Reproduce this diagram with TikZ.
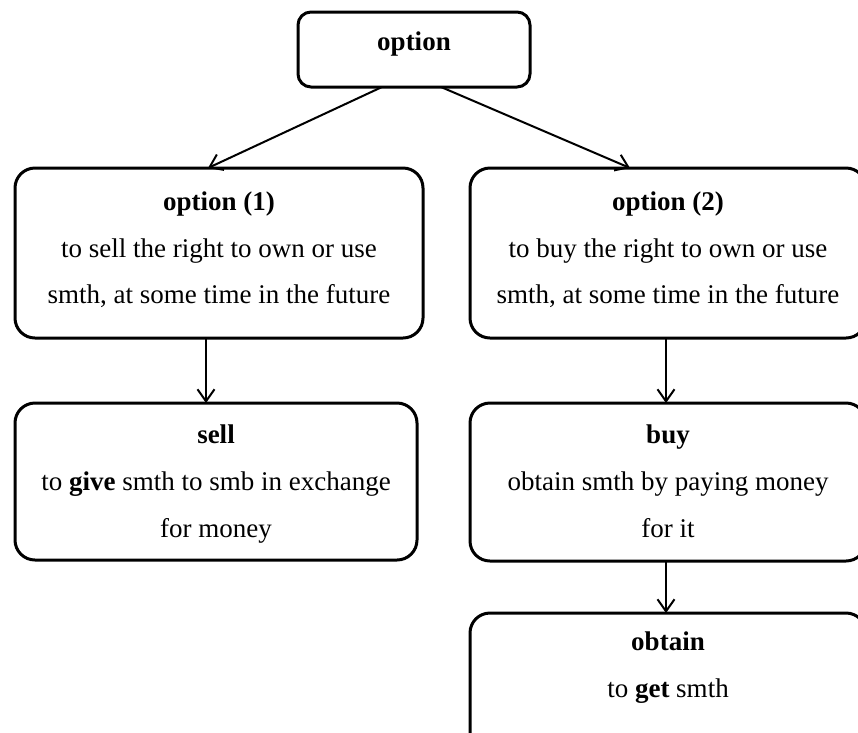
\documentclass[tikz,border=0pt]{standalone}
\usepackage{fontspec}
\setmainfont{Liberation Serif}
\usetikzlibrary{arrows.meta}
\tikzset{
  box/.style={draw=black, line width=3pt, rounded corners=20pt, inner sep=0pt, outer sep=0pt},
  smallbox/.style={box, rounded corners=13pt},
  txt/.style={anchor=base, inner sep=0pt, outer sep=0pt, font=\fontsize{27pt}{46pt}\selectfont},
  arr/.style={line width=2pt, -{Straight Barb[length=12pt,width=17pt,line width=2pt]}}
}
\begin{document}
\begin{tikzpicture}[x=1pt,y=-1pt]
\useasboundingbox (0,0) rectangle (858,732);
\clip (0,0) rectangle (858,732);
% boxes
\node[smallbox, minimum width=232pt, minimum height=75pt] (top) at (414,49.5) {};
\node[box, minimum width=408pt, minimum height=170pt] (l1) at (219,253) {};
\node[box, minimum width=396pt, minimum height=170pt] (r1) at (668,253) {};
\node[box, minimum width=402pt, minimum height=157pt] (sell) at (216,481.5) {};
\node[box, minimum width=396pt, minimum height=158pt] (buy) at (668,482) {};
\node[box, minimum width=396pt, minimum height=140pt] (obtain) at (668,683) {};
% texts
\node[txt] (ttop) at (414,50) {\textbf{option}};
\node[txt] (tl1a) at (219,210) {\textbf{option (1)}};
\node[txt] (tl1b) at (219,257) {to sell the right to own or use};
\node[txt] (tl1c) at (219,303) {smth, at some time in the future};
\node[txt] (tr1a) at (668,210) {\textbf{option (2)}};
\node[txt] (tr1b) at (668,257) {to buy the right to own or use};
\node[txt] (tr1c) at (668,303) {smth, at some time in the future};
\node[txt] (tsa) at (216,443) {\textbf{sell}};
\node[txt] (tsb) at (216,490) {to \textbf{give} smth to smb in exchange};
\node[txt] (tsc) at (216,537) {for money};
\node[txt] (tba) at (668,443) {\textbf{buy}};
\node[txt] (tbb) at (668,490) {obtain smth by paying money};
\node[txt] (tbc) at (668,537) {for it};
\node[txt] (toa) at (668,650) {\textbf{obtain}};
\node[txt] (tob) at (668,697) {to \textbf{get} smth};
% connectors
\draw[arr] ([xshift=-32pt]top.south) -- ([xshift=-11pt]l1.north);
\draw[arr] ([xshift=27pt]top.south) -- ([xshift=-38pt]r1.north);
\draw[arr] ([xshift=-13pt]l1.south) -- ([xshift=-13pt]l1.south |- sell.north);
\draw[arr] ([xshift=-2pt]r1.south) -- ([xshift=-2pt]r1.south |- buy.north);
\draw[arr] ([xshift=-2pt]buy.south) -- ([xshift=-2pt]buy.south |- obtain.north);
\end{tikzpicture}
\end{document}
